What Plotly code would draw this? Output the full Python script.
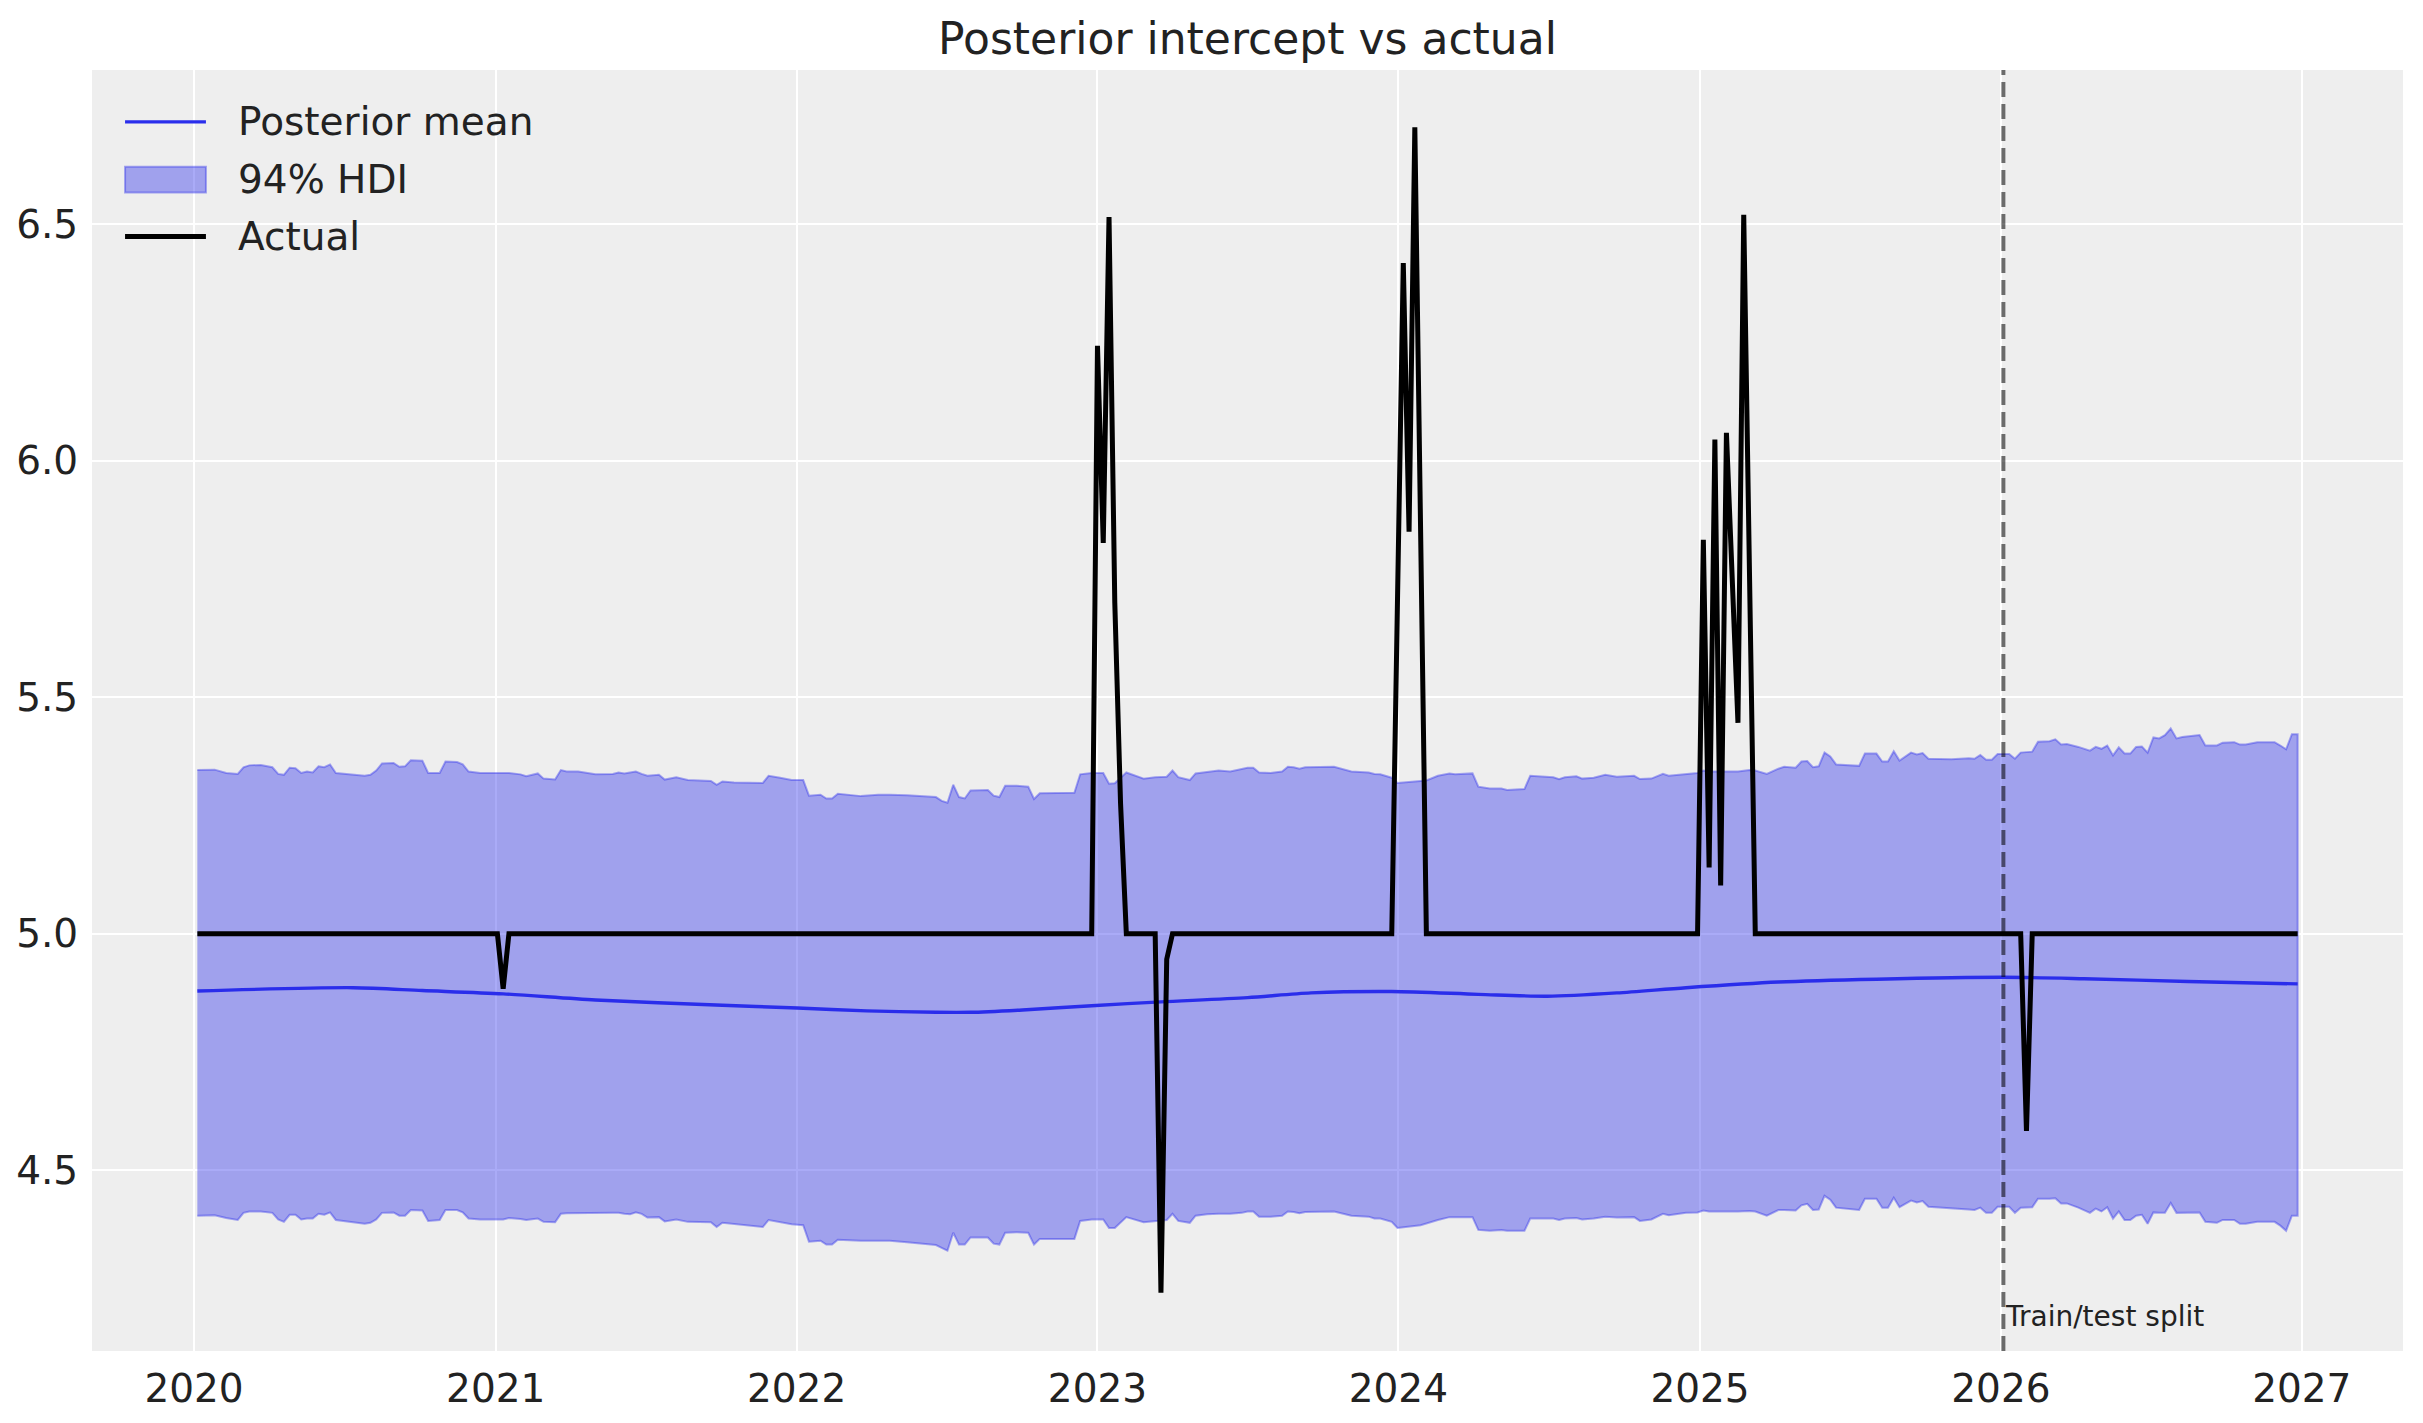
import numpy as np
import pandas as pd
import plotly.graph_objects as go

# weekly series, week 0 = 2020-01-05 (sundays)
START = pd.Timestamp("2020-01-05")

# 94% HDI band
hdi_week = [0, 3, 5, 7, 8, 9, 11, 13, 14, 15, 16, 17, 18, 19, 20, 21, 22, 23, 24, 26,
            29, 30, 31, 32, 34, 35, 36, 37, 39, 40, 42, 43, 45, 46, 47, 49, 51, 53, 54, 56,
            57, 59, 60, 62, 63, 64, 66, 69, 72, 73, 74, 75, 76, 77, 78, 80, 81, 83, 85, 89,
            90, 91, 93, 98, 99, 101, 103, 105, 106, 108, 109, 110, 111, 115, 118, 120, 123, 128, 129, 130,
            131, 132, 133, 134, 137, 138, 139, 140, 142, 144, 145, 146, 149, 152, 153, 155, 157, 158, 159, 161,
            164, 166, 168, 169, 170, 172, 173, 175, 177, 179, 181, 182, 183, 184, 186, 188, 189, 190, 191, 192,
            197, 200, 203, 204, 205, 207, 208, 212, 213, 215, 217, 218, 221, 222, 224, 226, 227, 230, 231, 235,
            236, 237, 239, 240, 242, 244, 246, 249, 250, 252, 254, 255, 258, 260, 261, 262, 267, 269, 270, 272,
            274, 275, 277, 278, 279, 280, 281, 282, 283, 284, 288, 289, 291, 292, 293, 294, 295, 297, 298, 299,
            300, 304, 307, 308, 309, 310, 311, 312, 314, 315, 316, 318, 319, 321, 322, 323, 324, 326, 328, 329,
            330, 331, 332, 333, 334, 335, 336, 337, 338, 339, 340, 341, 342, 343, 344, 347, 348, 350, 351, 353,
            354, 355, 357, 360, 361, 362, 363, 364]

hdi_upper = [5.346, 5.347, 5.340, 5.338, 5.352, 5.356, 5.357, 5.352, 5.338, 5.336, 5.351, 5.350, 5.340, 5.343, 5.341, 5.354, 5.352, 5.358, 5.340, 5.337,
             5.334, 5.336, 5.345, 5.360, 5.361, 5.353, 5.354, 5.367, 5.366, 5.340, 5.340, 5.364, 5.363, 5.358, 5.343, 5.340, 5.340, 5.339, 5.340, 5.337,
             5.333, 5.339, 5.328, 5.326, 5.346, 5.343, 5.343, 5.337, 5.338, 5.341, 5.339, 5.341, 5.343, 5.338, 5.334, 5.336, 5.326, 5.331, 5.325, 5.323,
             5.315, 5.322, 5.320, 5.319, 5.334, 5.330, 5.325, 5.325, 5.292, 5.294, 5.286, 5.286, 5.296, 5.291, 5.294, 5.294, 5.293, 5.289, 5.281, 5.277,
             5.315, 5.289, 5.286, 5.303, 5.304, 5.292, 5.289, 5.313, 5.313, 5.311, 5.285, 5.297, 5.298, 5.298, 5.337, 5.340, 5.340, 5.317, 5.318, 5.341,
             5.328, 5.331, 5.332, 5.345, 5.331, 5.325, 5.339, 5.342, 5.345, 5.343, 5.349, 5.351, 5.351, 5.341, 5.340, 5.343, 5.353, 5.352, 5.349, 5.352,
             5.353, 5.343, 5.341, 5.338, 5.337, 5.330, 5.319, 5.323, 5.324, 5.334, 5.339, 5.337, 5.339, 5.311, 5.307, 5.307, 5.304, 5.306, 5.334, 5.331,
             5.327, 5.331, 5.333, 5.328, 5.330, 5.336, 5.332, 5.334, 5.327, 5.328, 5.338, 5.334, 5.338, 5.340, 5.345, 5.343, 5.343, 5.346, 5.345, 5.338,
             5.349, 5.353, 5.351, 5.364, 5.365, 5.352, 5.354, 5.383, 5.375, 5.358, 5.355, 5.381, 5.381, 5.364, 5.364, 5.386, 5.366, 5.383, 5.379, 5.382,
             5.370, 5.369, 5.371, 5.370, 5.378, 5.368, 5.368, 5.380, 5.380, 5.370, 5.383, 5.385, 5.406, 5.407, 5.411, 5.400, 5.401, 5.395, 5.387, 5.395,
             5.391, 5.398, 5.377, 5.394, 5.381, 5.381, 5.395, 5.396, 5.383, 5.415, 5.413, 5.420, 5.434, 5.413, 5.416, 5.420, 5.398, 5.398, 5.404, 5.405,
             5.400, 5.400, 5.405, 5.405, 5.398, 5.390, 5.422, 5.422]

hdi_lower = [4.404, 4.405, 4.399, 4.395, 4.410, 4.413, 4.413, 4.410, 4.396, 4.391, 4.406, 4.406, 4.396, 4.398, 4.398, 4.408, 4.406, 4.411, 4.395, 4.392,
             4.387, 4.389, 4.396, 4.410, 4.411, 4.404, 4.404, 4.416, 4.415, 4.393, 4.395, 4.416, 4.416, 4.411, 4.398, 4.396, 4.396, 4.396, 4.399, 4.397,
             4.395, 4.398, 4.391, 4.390, 4.408, 4.409, 4.410, 4.410, 4.410, 4.410, 4.408, 4.407, 4.411, 4.408, 4.400, 4.401, 4.392, 4.396, 4.391, 4.390,
             4.380, 4.389, 4.387, 4.380, 4.395, 4.391, 4.386, 4.384, 4.349, 4.351, 4.343, 4.343, 4.353, 4.351, 4.351, 4.351, 4.348, 4.342, 4.336, 4.330,
             4.368, 4.343, 4.343, 4.358, 4.358, 4.345, 4.343, 4.368, 4.369, 4.368, 4.343, 4.355, 4.355, 4.355, 4.393, 4.396, 4.396, 4.378, 4.378, 4.401,
             4.390, 4.392, 4.395, 4.408, 4.393, 4.389, 4.404, 4.407, 4.408, 4.408, 4.410, 4.413, 4.413, 4.402, 4.402, 4.404, 4.413, 4.412, 4.409, 4.412,
             4.413, 4.404, 4.402, 4.398, 4.398, 4.391, 4.378, 4.384, 4.387, 4.395, 4.401, 4.401, 4.401, 4.374, 4.372, 4.374, 4.372, 4.372, 4.398, 4.398,
             4.395, 4.398, 4.399, 4.396, 4.398, 4.402, 4.400, 4.401, 4.393, 4.396, 4.408, 4.405, 4.410, 4.411, 4.415, 4.413, 4.413, 4.414, 4.413, 4.404,
             4.416, 4.416, 4.415, 4.426, 4.429, 4.416, 4.417, 4.446, 4.438, 4.421, 4.416, 4.440, 4.440, 4.421, 4.421, 4.442, 4.422, 4.436, 4.432, 4.435,
             4.423, 4.419, 4.417, 4.416, 4.421, 4.410, 4.410, 4.423, 4.423, 4.410, 4.421, 4.422, 4.440, 4.440, 4.441, 4.430, 4.430, 4.421, 4.410, 4.419,
             4.413, 4.422, 4.398, 4.413, 4.395, 4.395, 4.404, 4.406, 4.387, 4.411, 4.410, 4.410, 4.431, 4.410, 4.411, 4.411, 4.391, 4.389, 4.395, 4.395,
             4.387, 4.387, 4.391, 4.391, 4.383, 4.372, 4.404, 4.404]

# posterior mean (smooth curve)
mean_week = [0, 27, 39, 53, 69, 91, 104, 116, 128, 134, 143, 155, 167, 182, 193, 207, 222,
             234, 246, 258, 274, 291, 313, 327, 345, 364]
mean_value = [4.879, 4.886, 4.880, 4.873, 4.860, 4.849, 4.843, 4.837, 4.834, 4.834, 4.839,
              4.848, 4.856, 4.865, 4.875, 4.878, 4.872, 4.868, 4.875, 4.886, 4.898, 4.904,
              4.908, 4.905, 4.899, 4.894]

# actual values, only the weeks where the line bends
actual_week = [0, 52, 53, 54, 155, 156, 157, 158, 159, 160, 161, 166, 167, 168, 169,
               207, 209, 210, 211, 213, 260, 261, 262, 263, 264, 265, 267, 268, 270,
               316, 317, 318, 364]
actual_value = [5.0, 5.0, 4.884, 5.0, 5.0, 6.243, 5.826, 6.515, 5.70, 5.275, 5.0, 5.0, 4.241, 4.946, 5.0,
                5.0, 6.418, 5.850, 6.705, 5.0, 5.0, 5.833, 5.140, 6.045, 5.102, 6.059, 5.446, 6.520, 5.0,
                5.0, 4.583, 5.0, 5.0]

split_week = 313
year_ticks = list(range(2020, 2028))
legend_names = ["Posterior mean", "94% HDI", "Actual"]


def to_dates(weeks):
    return START + pd.to_timedelta(np.array(weeks) * 7, unit="D")


hdi_dates = to_dates(hdi_week)
mean_dates = to_dates(mean_week)
actual_dates = to_dates(actual_week)
split_date = to_dates([split_week])[0]

BLUE = "#2a2eec"
BAND = "rgba(42,46,236,0.4)"
TEXT = "#222222"
MEAN_W = 3.4
ACT_W = 5.0

fig = go.Figure()

fig.add_trace(go.Scatter(
    x=mean_dates, y=mean_value,
    mode="lines", line=dict(color=BLUE, width=MEAN_W, shape="spline", smoothing=0.8),
    name=legend_names[0], showlegend=False
))

# band as one closed polygon: upper edge, then lower edge backwards
band_x = list(hdi_dates) + list(hdi_dates[::-1])
band_y = hdi_upper + hdi_lower[::-1]
fig.add_trace(go.Scatter(
    x=band_x, y=band_y,
    mode="lines", fill="toself",
    fillcolor=BAND,
    line=dict(color=BAND, width=2),
    name=legend_names[1], showlegend=False
))

fig.add_trace(go.Scatter(
    x=actual_dates, y=actual_value,
    mode="lines", line=dict(color="black", width=ACT_W),
    name=legend_names[2], showlegend=False
))

fig.add_shape(
    type="line", xref="x", yref="paper",
    x0=split_date, x1=split_date, y0=0, y1=1,
    line=dict(color="rgba(0,0,0,0.55)", width=4, dash="15px,7px")
)
fig.add_annotation(
    x=split_date, y=4.19, xref="x", yref="y",
    text="Train/test split", showarrow=False,
    xanchor="left", yanchor="middle",
    font=dict(size=28, color=TEXT)
)

# legend drawn by hand so the HDI handle is a proper box (matplotlib style)
lx0, lx1, ltext = 0.0143, 0.0493, 0.0623
rows = [0.9595, 0.9144, 0.8700]
fig.add_shape(type="line", xref="paper", yref="paper", x0=lx0, x1=lx1, y0=rows[0], y1=rows[0],
              line=dict(color=BLUE, width=MEAN_W))
fig.add_shape(type="rect", xref="paper", yref="paper", x0=lx0, x1=lx1, y0=rows[1] - 0.0101, y1=rows[1] + 0.0101,
              fillcolor=BAND, line=dict(color=BAND, width=2))
fig.add_shape(type="line", xref="paper", yref="paper", x0=lx0, x1=lx1, y0=rows[2], y1=rows[2],
              line=dict(color="black", width=ACT_W))
for name, ry in zip(legend_names, rows):
    fig.add_annotation(x=ltext, y=ry, xref="paper", yref="paper", text=name, showarrow=False,
                       xanchor="left", yanchor="middle", font=dict(size=39, color=TEXT))

fig.update_layout(
    width=2423, height=1423,
    margin=dict(l=92, r=20, t=70, b=68),
    paper_bgcolor="white", plot_bgcolor="#eeeeee",
    font=dict(family="DejaVu Sans", size=39, color=TEXT),
    title=dict(text="Posterior intercept vs actual", x=0.5, xref="paper",
               y=1 - 39 / 1423, yref="container", xanchor="center", yanchor="middle",
               font=dict(size=44, color=TEXT)),
    showlegend=False,
)

fig.update_xaxes(
    type="date",
    range=["2019-08-30 04:48", "2027-05-03 19:12"],
    tickvals=[pd.Timestamp(f"{y}-01-01") for y in year_ticks],
    ticktext=[str(y) for y in year_ticks],
    showgrid=True, gridcolor="white", gridwidth=2.2,
    zeroline=False, showline=False,
    ticks="outside", ticklen=3, tickcolor="rgba(0,0,0,0)",
)
fig.update_yaxes(
    range=[4.118, 6.826],
    tickvals=[4.5, 5.0, 5.5, 6.0, 6.5],
    ticktext=["4.5", "5.0", "5.5", "6.0", "6.5"],
    showgrid=True, gridcolor="white", gridwidth=2.2,
    zeroline=False, showline=False,
    ticks="outside", ticklen=5, tickcolor="rgba(0,0,0,0)",
)

fig.write_html("out.html", config={"displayModeBar": False},
               post_script="document.body.style.margin='0';document.body.style.overflow='hidden';")
